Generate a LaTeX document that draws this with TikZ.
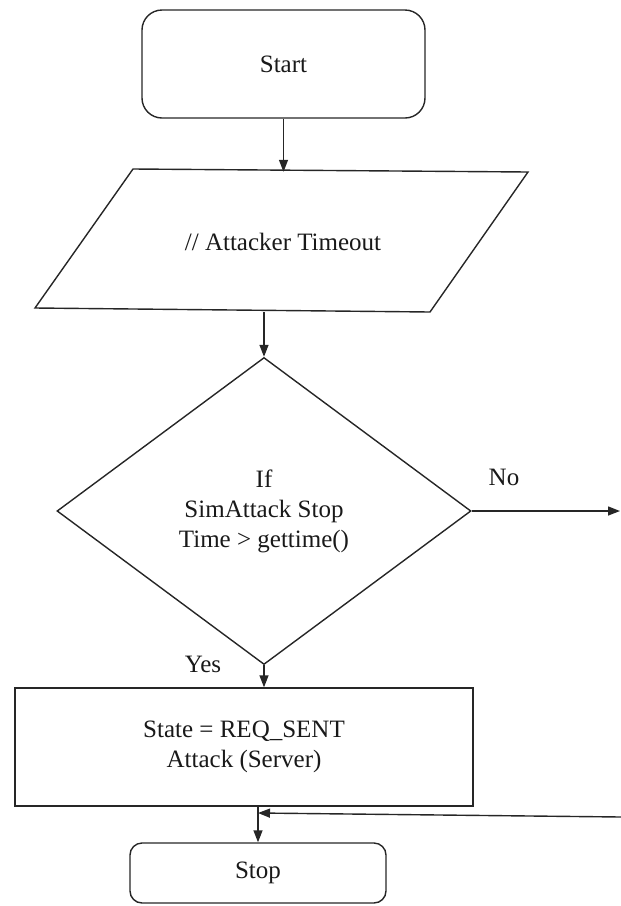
\documentclass[tikz,border=0pt]{standalone}
\usepackage{fontspec}
\setmainfont{Liberation Serif}
\usetikzlibrary{arrows.meta,shapes.geometric,calc}

\tikzset{
  line/.style={draw=black!85, line width=1.4pt},
  arrow/.style={line, -{Triangle[length=12pt,width=9pt]}},
  txt/.style={font=\fontsize{25}{30}\selectfont, text=black!90, align=center},
  terminal/.style={line, txt, rounded corners=20pt, inner sep=0pt},
  procbox/.style={line, txt, inner sep=0pt},
  decision/.style={line, txt, diamond, inner sep=0pt},
  lbl/.style={txt, inner sep=0pt}
}

\begin{document}
\begin{tikzpicture}[x=1pt,y=-1pt]
  \useasboundingbox (0,0) rectangle (621,906);

  % terminal: start
  \node[terminal, minimum width=283pt, minimum height=108pt] (start) at (283.5,64) {Start};

  % input/output parallelogram
  \draw[line] (133,169) -- (528,172) -- (430,312) -- (35,308) -- cycle;
  \node[lbl, minimum width=395pt, minimum height=140pt] (io) at (283,242) {// Attacker Timeout};

  % decision
  \node[decision, minimum width=414pt, minimum height=307pt] (dec) at (264,511)
    {If\\SimAttack Stop\\Time > gettime()};

  % process
  \node[procbox, minimum width=458pt, minimum height=118pt] (proc) at (244,747)
    {State = REQ\_SENT\\Attack (Server)};

  % terminal: stop
  \node[terminal, rounded corners=12pt, minimum width=256pt, minimum height=60pt] (stop) at (258,873) {Stop};

  % branch labels
  \node[lbl] (no) at (504,477) {No};
  \node[lbl] (yes) at (203,664) {Yes};

  % free ends at the right border
  \coordinate (noout) at (620,511);
  \coordinate (inr) at (621,817);
  \coordinate (join) at (258,813);

  % connectors
  \draw[arrow] (start.south) -- (start.south |- io.north);
  \draw[arrow] (dec.north |- io.south) -- (dec.north);
  \draw[arrow] (dec.east) -- (noout);
  \draw[arrow] (dec.south) -- (dec.south |- proc.north);
  \draw[arrow] (stop.north |- proc.south) -- (stop.north);
  \draw[arrow] (inr) -- (join);
\end{tikzpicture}
\end{document}
